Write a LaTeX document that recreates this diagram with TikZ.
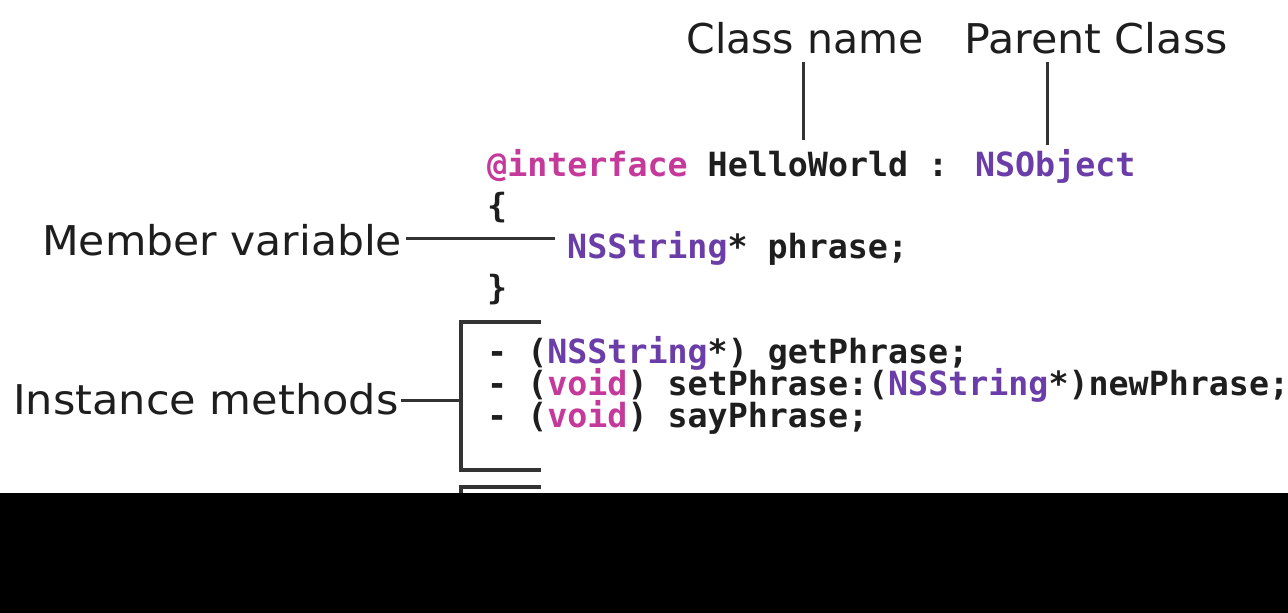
\documentclass[tikz,border=0pt]{standalone}
\usepackage{fontspec}
\setmainfont{DejaVu Sans}
\newfontfamily\codefont{DejaVu Sans Mono}
\definecolor{kw}{HTML}{C4399A}
\definecolor{cls}{HTML}{6A3DA8}
\definecolor{txt}{HTML}{1E1E1E}
\definecolor{ln}{HTML}{333333}
\newcommand\wscale[2]{\scalebox{#1}[1]{#2}}
\begin{document}
\begin{tikzpicture}[x=1pt,y=-1pt,
  lbl/.style={inner sep=0pt, font=\fontsize{41}{50}\selectfont, text=txt},
  code/.style={inner sep=0pt, anchor=base west, font=\codefont\bfseries\fontsize{33.3}{40}\selectfont, text=txt},
  conn/.style={draw=ln, line width=3pt},
  brk/.style={draw=ln, line width=4pt}]
\useasboundingbox (0,0) rectangle (1288,613);
\fill[white] (0,0) rectangle (1288,613);

% labels
\node[lbl, anchor=base] (clsname) at (805,53) {Class name};
\node[lbl, anchor=base] (parent) at (1096,53) {\wscale{1.045}{Parent Class}};
\node[lbl, anchor=base west] (member) at (42,255) {\wscale{1.037}{Member variable}};
\node[lbl, anchor=base west] (inst) at (13,414) {\wscale{1.05}{Instance methods}};

% code
\node[code] (l1) at (487,176) {\textcolor{kw}{@interface} HelloWorld : \textcolor{cls}{NSObject}};
\node[code] (l2) at (487,217) {\{};
\node[code] (l3) at (567,258) {\textcolor{cls}{NSString}* phrase;};
\node[code] (l4) at (487,299) {\}};
\node[code] (m1) at (487,363) {- (\textcolor{cls}{NSString}*) getPhrase;};
\node[code] (m2) at (487,395) {- (\textcolor{kw}{void}) setPhrase:(\textcolor{cls}{NSString}*)newPhrase;};
\node[code] (m3) at (487,427) {- (\textcolor{kw}{void}) sayPhrase;};

% connector end points
\coordinate (hw) at (803,140);
\coordinate (nso) at (1047,145);
\coordinate (var) at (555,238);
\coordinate (bmid) at (461,400);
\coordinate (bt) at (541,322);
\coordinate (bb) at (541,470);
\coordinate (b2t) at (541,487);
\coordinate (b2b) at (461,500);

\draw[conn] (clsname.south -| hw) ++(0,8) -- (hw);
\draw[conn] (parent.south -| nso) ++(0,8) -- (nso);
\draw[conn] ([xshift=4pt]member.east |- var) -- (var);
\draw[conn] ([xshift=2pt]inst.east |- bmid) -- (bmid);
\draw[brk] (bt) -| (bmid) |- (bb);
\draw[brk] (b2t) -| (b2b);

% black band
\fill[black] (0,493) rectangle (1288,613);
\end{tikzpicture}
\end{document}
